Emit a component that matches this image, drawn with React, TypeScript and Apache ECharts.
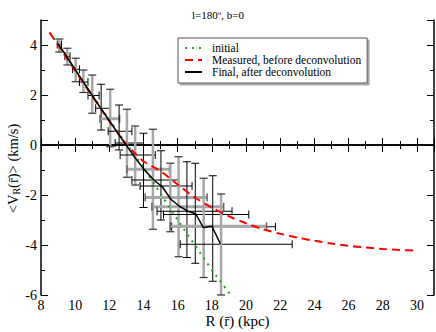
import React, { useEffect, useRef } from "react";
import * as echarts from "echarts";

const R_INIT = [8.5, 9, 10, 11, 12, 13, 14, 15, 16, 17, 18, 19.1];
const V_INIT = [4.5, 4.0, 3.0, 2.0, 1.0, 0.05, -0.9, -1.95, -3.0, -4.0, -5.0, -6.0];

const R_MEAS = [8.5, 9, 10, 11, 12, 13, 13.5, 14, 15, 16, 17, 18, 19, 20, 21, 22, 23, 24, 25, 26, 27, 28, 29, 30];
const V_MEAS = [4.5, 4.0, 2.97, 1.95, 0.95, 0.02, -0.33, -0.65, -1.05, -1.58, -2.1, -2.5, -2.85, -3.13, -3.37, -3.55, -3.7, -3.83, -3.94, -4.03, -4.1, -4.16, -4.2, -4.23];

const R_FINAL = [9.0, 9.5, 10.0, 10.5, 11.0, 11.5, 12.0, 12.5, 13.0, 13.5, 14.0, 14.6, 15.1, 15.6, 16.1, 16.6, 17.05, 17.5, 18.0, 18.5];
const V_FINAL = [4.05, 3.55, 3.02, 2.5, 1.98, 1.47, 0.97, 0.47, -0.02, -0.5, -0.95, -1.4, -1.67, -2.17, -2.45, -2.65, -2.75, -3.3, -3.25, -3.95];

const ERR_R = [9.07, 9.54, 10.03, 10.48, 11.0, 11.52, 12.05, 12.57, 13.03, 13.51, 14.0, 14.55, 15.02, 15.57, 16.05, 16.54, 17.03, 17.52, 18.05, 18.54];
const ERR_V = [4.02, 3.55, 3.03, 2.52, 1.98, 1.47, 1.05, 0.55, 0.08, -0.4, -0.97, -1.4, -1.64, -2.1, -2.47, -2.65, -2.78, -3.27, -3.25, -3.97];
const ERR_VLO = [3.72, 3.2, 2.53, 2.1, 1.27, 0.6, -0.07, -0.2, -1.29, -1.6, -2.5, -3.37, -3.0, -3.47, -4.47, -4.5, -4.73, -5.3, -5.45, -6.0];
const ERR_VHI = [4.24, 3.87, 3.47, 3.0, 2.8, 2.43, 2.23, 1.6, 1.43, 0.76, 0.47, 0.63, -0.23, -0.73, -0.47, -0.67, -0.73, -1.33, -1.23, -1.96];
const ERR_HLO = [8.95, 9.4, 9.85, 10.25, 10.75, 11.2, 11.45, 11.93, 12.34, 12.63, 13.03, 13.32, 13.8, 14.1, 14.49, 14.79, 15.17, 15.65, 15.57, 16.15];
const ERR_HHI = [9.2, 9.7, 10.25, 10.75, 11.4, 12.05, 12.6, 13.32, 14.0, 14.69, 15.52, 16.05, 16.84, 17.72, 18.69, 19.18, 20.16, 21.72, 21.2, 22.7];
const ERR_VGREY = [1, 1, 1, 1, 1, 0, 1, 0, 1, 1, 0, 1, 0, 1, 1, 0, 0, 1, 0, 1];
const ERR_HGREY = [0, 0, 0, 0, 0, 0, 1, 0, 0, 0, 1, 0, 0, 1, 1, 0, 0, 0, 1, 0];

const SERIF = "Liberation Serif";

export default function App() {
  const ref = useRef<HTMLDivElement>(null);
  useEffect(() => {
    if (!ref.current) return;
    const chart = echarts.init(ref.current, undefined, { renderer: "svg" });
    const errData = ERR_R.map((r, i) => [r, ERR_V[i], ERR_VLO[i], ERR_VHI[i], ERR_HLO[i], ERR_HHI[i], ERR_VGREY[i], ERR_HGREY[i]]);
    const axisCommon = {
      type: "value" as const,
      axisLine: { show: true, lineStyle: { color: "#000", width: 1.5 } },
      axisTick: { show: true, inside: true, length: 7, lineStyle: { color: "#000" } },
      minorTick: { show: true, splitNumber: 2, length: 4, lineStyle: { color: "#000" } },
      splitLine: { show: false },
    };
    chart.setOption({
      animation: false,
      backgroundColor: "#fff",
      textStyle: { fontFamily: SERIF },
      title: {
        text: "l=180{sup|o}, b=0",
        left: "center",
        top: 4,
        textStyle: {
          fontFamily: SERIF, fontSize: 11, fontWeight: "normal", color: "#000",
          rich: { sup: { fontSize: 7, verticalAlign: "top", fontFamily: SERIF, color: "#000" } },
        },
      },
      grid: { left: 41, right: 2, top: 20, bottom: 37, outerBoundsMode: "none", containLabel: false },
      legend: {
        orient: "vertical",
        left: 178,
        top: 38,
        padding: [4, 6, 5, 6],
        itemGap: 0,
        itemWidth: 17,
        itemHeight: 11,
        backgroundColor: "#fff",
        borderColor: "#555",
        borderWidth: 1,
        shadowColor: "#aaa",
        shadowOffsetX: 2,
        shadowOffsetY: 2,
        shadowBlur: 0,
        itemStyle: { opacity: 0 },
        data: ["initial", "Measured, before deconvolution", "Final, after deconvolution"],
        textStyle: { fontFamily: SERIF, fontSize: 11.5, lineHeight: 11, color: "#000", padding: [0, 0, 0, 5] },
      },
      xAxis: [
        {
          ...axisCommon,
          min: 8, max: 31, interval: 2, position: "bottom",
          axisLabel: { show: true, showMaxLabel: false, fontFamily: SERIF, fontSize: 14, color: "#000", margin: 3 },
          name: "R (r\u0304) (kpc)",
          nameLocation: "middle",
          nameGap: 18,
          nameMoveOverlap: false,
          nameTextStyle: { fontFamily: SERIF, fontSize: 15, color: "#000" },
        },
        {
          ...axisCommon,
          min: 8, max: 31, interval: 2, position: "top",
          axisLabel: { show: false },
        },
      ],
      yAxis: [
        {
          ...axisCommon,
          min: -6, max: 5, interval: 2, position: "left",
          axisLabel: { show: true, showMaxLabel: false, fontFamily: SERIF, fontSize: 14, color: "#000", margin: 4 },
          name: "<V{sub|R}(r\u0304)> (km/s)",
          nameLocation: "middle",
          nameGap: 20,
          nameMoveOverlap: false,
          nameTextStyle: {
            fontFamily: SERIF, fontSize: 14.5, color: "#000",
            padding: [0, 22, 0, 0],
            rich: { sub: { fontFamily: SERIF, fontSize: 10, color: "#000", verticalAlign: "bottom", padding: [6, 0, 0, 0] } },
          },
        },
        {
          ...axisCommon,
          min: -6, max: 5, interval: 2, position: "right",
          axisLabel: { show: false },
        },
      ],
      series: [
        {
          type: "custom",
          name: "errors",
          data: errData,
          encode: { x: 0, y: 1 },
          renderItem: (_params: any, api: any) => {
            const x = api.value(0);
            const y = api.value(1);
            const vlo = api.value(2);
            const vhi = api.value(3);
            const hlo = api.value(4);
            const hhi = api.value(5);
            const vg = api.value(6);
            const hg = api.value(7);
            const top = api.coord([x, vhi]);
            const bot = api.coord([x, vlo]);
            const lft = api.coord([hlo, y]);
            const rgt = api.coord([hhi, y]);
            const cap = 4;
            const vStyle = vg ? { stroke: "#a8a8a8", lineWidth: 2.5 } : { stroke: "#000", lineWidth: 1 };
            const hStyle = hg ? { stroke: "#a8a8a8", lineWidth: 3 } : { stroke: "#000", lineWidth: 1 };
            const capV = vg ? { stroke: "#333", lineWidth: 1.2 } : { stroke: "#000", lineWidth: 1 };
            const capH = hg ? { stroke: "#666", lineWidth: 1.5 } : { stroke: "#000", lineWidth: 1 };
            return {
              type: "group",
              children: [
                { type: "line", shape: { x1: lft[0], y1: lft[1], x2: rgt[0], y2: rgt[1] }, style: hStyle },
                { type: "line", shape: { x1: lft[0], y1: lft[1] - cap, x2: lft[0], y2: lft[1] + cap }, style: capH },
                { type: "line", shape: { x1: rgt[0], y1: rgt[1] - cap, x2: rgt[0], y2: rgt[1] + cap }, style: capH },
                { type: "line", shape: { x1: top[0], y1: top[1], x2: bot[0], y2: bot[1] }, style: vStyle },
                { type: "line", shape: { x1: top[0] - cap, y1: top[1], x2: top[0] + cap, y2: top[1] }, style: capV },
                { type: "line", shape: { x1: bot[0] - cap, y1: bot[1], x2: bot[0] + cap, y2: bot[1] }, style: capV },
              ],
            };
          },
          z: 1,
        },
        {
          type: "line",
          name: "initial",
          data: R_INIT.map((r, i) => [r, V_INIT[i]]),
          symbol: "none",
          lineStyle: { color: "#1ea51e", width: 2, type: [2, 5] },
          itemStyle: { color: "#1ea51e" },
          z: 3,
        },
        {
          type: "line",
          name: "Measured, before deconvolution",
          data: R_MEAS.map((r, i) => [r, V_MEAS[i]]),
          symbol: "none",
          smooth: 0.3,
          lineStyle: { color: "#ff0000", width: 2, type: [8, 5] },
          itemStyle: { color: "#ff0000" },
          z: 3,
        },
        {
          type: "line",
          name: "Final, after deconvolution",
          data: R_FINAL.map((r, i) => [r, V_FINAL[i]]),
          symbol: "none",
          lineStyle: { color: "#000", width: 1.5 },
          itemStyle: { color: "#000" },
          z: 4,
          markLine: {
            silent: true,
            symbol: "none",
            label: { show: false },
            lineStyle: { color: "#000", width: 1, type: [3, 3] },
            data: [{ yAxis: 0 }],
          },
        },
      ],
    });
    return () => chart.dispose();
  }, []);
  return <div ref={ref} style={{ position: "absolute", left: 0, top: 0, width: 436, height: 332 }} />;
}
